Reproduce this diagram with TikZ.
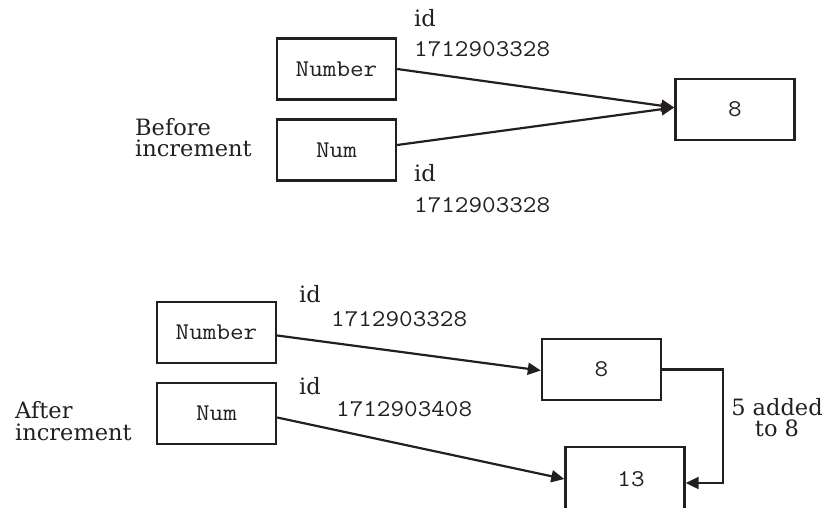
\documentclass[tikz,border=0pt]{standalone}
\usepackage{fontspec}
\setmainfont{DejaVu Serif}
\setmonofont{Latin Modern Mono}[FakeStretch=1.1]
\usetikzlibrary{arrows.meta,calc}
\definecolor{ink}{HTML}{231F20}
\tikzset{
  membox/.style={draw=ink, line width=2.4pt, minimum width=119pt, minimum height=61pt,
    inner sep=0pt, text=ink, font=\ttfamily\fontsize{24}{26}\selectfont},
  arr/.style={draw=ink, line width=2.2pt, -{Triangle[length=13pt,width=12pt]}},
  lbl/.style={anchor=base west, inner sep=0pt, text=ink, font=\rmfamily\fontsize{22.5}{24}\selectfont},
  twolines/.style={lbl, align=left, font=\rmfamily\fontsize{22.5}{21}\selectfont},
  idnum/.style={anchor=base west, inner sep=0pt, text=ink, font=\ttfamily\fontsize{24}{26}\selectfont}
}
\begin{document}
\begin{tikzpicture}[x=1pt,y=-1pt]
\useasboundingbox (0,0) rectangle (828,508);
% ---------- before increment ----------
\node[membox] (nb1) at (336.5,69) {Number};
\node[membox] (nm1) at (336.5,150) {Num};
\node[membox] (v8a) at (735,109.5) {8};
\node[twolines] (bf) at (135,157) {Before\\increment};
\node[lbl] (ida) at (414,27) {id};
\node[idnum] (numa) at (414,57) {1712903328};
\node[lbl] (idb) at (414,182) {id};
\node[idnum] (numb) at (414,212) {1712903328};
\draw[arr] (nb1.east) -- ([yshift=2pt]v8a.west);
\draw[arr] ([yshift=5pt]nm1.east) -- ([yshift=2pt]v8a.west);
% ---------- after increment ----------
\node[membox] (nb2) at (216.5,332.5) {Number};
\node[membox] (nm2) at (216.5,413.5) {Num};
\node[membox] (v8b) at (601.5,369.5) {8};
\node[membox, minimum height=64pt] (v13) at (625,479) {\hspace*{12pt}13};
\node[twolines, font=\rmfamily\fontsize{22.5}{22}\selectfont] (af) at (15,440) {After\\increment};
\node[lbl] (idc) at (299,302) {id};
\node[idnum] (numc) at (331,326) {1712903328};
\node[lbl] (idd) at (299,394) {id};
\node[idnum] (numd) at (336,416) {1712903408};
\node[lbl, anchor=base, align=center, font=\rmfamily\fontsize{22.5}{21}\selectfont] (add) at (777,436) {5 added\\to 8};
\draw[arr] ([yshift=-3pt]nb2.east) -- ([yshift=-1pt]v8b.west);
\draw[arr] ([yshift=-4pt]nm2.east) -- (v13.west);
\coordinate (turn) at (723,483);
\draw[arr] (v8b.east) -- (v8b.east -| turn) -- (turn) -- (turn -| v13.east);
\end{tikzpicture}
\end{document}
